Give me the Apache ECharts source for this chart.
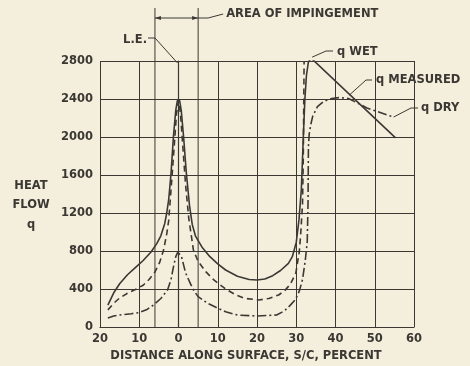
<!DOCTYPE html>
<html>
<head>
<meta charset="utf-8">
<script src="https://cdn.jsdelivr.net/npm/echarts@6/dist/echarts.min.js"></script>
<style>
  html, body { margin: 0; padding: 0; background: #f4efdd; }
  #chart { width: 470px; height: 366px; }
</style>
</head>
<body>
<div id="chart"></div>
<script>
// distance along surface (percent s/c; negative = lower side) vs heat flow q
const measured = [
  [-18, 230], [-16.5, 360], [-15, 455], [-13, 550], [-11, 625], [-9, 700], [-7, 790],
  [-5.5, 880], [-4.5, 960], [-3.5, 1090], [-3, 1200], [-2.5, 1340], [-1.9, 1620],
  [-1.3, 2000], [-0.7, 2280], [-0.3, 2380], [0, 2400], [0.3, 2380], [0.7, 2280],
  [1.3, 2000], [2, 1620], [2.8, 1280], [3.5, 1080], [4.3, 960], [6, 840], [8, 740],
  [10, 665], [12, 600], [15, 535], [18, 500], [20, 495], [22, 505], [24, 540],
  [26, 595], [28, 670], [29, 740], [30, 890], [30.7, 1130], [31.3, 1450], [31.8, 2000],
  [32.2, 2400], [32.6, 2650], [33.1, 2790], [33.8, 2830], [55.3, 1990]
];
const wet = [
  [-18, 180], [-16.5, 250], [-15, 305], [-13, 355], [-11, 395], [-9, 440], [-7.5, 500],
  [-6, 580], [-4.8, 680], [-3.8, 810], [-3, 980], [-2.5, 1120], [-1.8, 1500],
  [-1.1, 1900], [-0.5, 2250], [0, 2380], [0.5, 2250], [1.1, 1900], [1.8, 1500],
  [2.6, 1150], [3.8, 810], [5, 690], [7, 580], [9, 495], [12, 400], [14.5, 340],
  [17, 300], [20.5, 285], [23, 300], [25.5, 337], [27, 380], [28.5, 450], [29.9, 570],
  [30.8, 800], [31.2, 1020], [31.6, 1300], [31.8, 1800], [31.9, 2300], [32, 2790]
];
const dry = [
  [-18, 95], [-16.5, 115], [-15, 126], [-12, 140], [-10, 152], [-8, 185], [-6.4, 231],
  [-4.5, 300], [-2.8, 390], [-1.9, 500], [-1.3, 630], [-0.7, 740], [-0.2, 785],
  [0.2, 790], [0.7, 750], [1.2, 670], [1.8, 570], [3, 460], [3.8, 390], [5, 320],
  [7.4, 250], [9.4, 210], [12, 160], [15, 126], [20, 116], [25, 126], [27, 170],
  [28.5, 230], [29.8, 290], [30.8, 380], [31.6, 500], [32.3, 700], [32.8, 900],
  [33, 1300], [33.1, 1900], [33.3, 2030], [33.7, 2130], [34.2, 2220], [35.4, 2320],
  [37, 2375], [39, 2405], [41, 2415], [43.3, 2405], [46, 2350], [48, 2305], [54.8, 2210]
];
const impingement = [-6, 5];
const seriesNames = ['q MEASURED', 'q WET', 'q DRY'];
const xTitle = 'DISTANCE ALONG SURFACE, S/C, PERCENT';
const yTitle = ['HEAT', 'FLOW', 'q'];

const ink = '#3b3833';
const paper = '#f4efdd';
const font = 'DejaVu Sans';
const lbl = { color: ink, fontFamily: font, fontWeight: 'bold', fontSize: 11.5 };

const chart = echarts.init(document.getElementById('chart'), null, { renderer: 'canvas' });

function curve(name, data, type){
  return {
    name: name,
    type: 'line',
    data: data,
    symbol: 'none',
    smooth: false,
    lineStyle: { color: ink, width: 1.6, type: type, join: 'round' },
    z: 3
  };
}

chart.setOption({
  backgroundColor: paper,
  animation: false,
  grid: { left: 100, right: 56, top: 61, bottom: 39 },
  xAxis: {
    type: 'value', min: -20, max: 60, interval: 10,
    axisLine: { onZero: false, lineStyle: { color: ink, width: 1.2 } },
    axisTick: { show: false },
    splitLine: { lineStyle: { color: ink, width: 1 } },
    axisLabel: Object.assign({ margin: 6, formatter: v => String(Math.abs(v)) }, lbl)
  },
  yAxis: {
    type: 'value', min: 0, max: 2800, interval: 400,
    axisLine: { show: true, lineStyle: { color: ink, width: 1.2 } },
    axisTick: { show: false },
    splitLine: { lineStyle: { color: ink, width: 1 } },
    axisLabel: Object.assign({ margin: 7, formatter: v => String(v) }, lbl)
  },
  series: [
    curve(seriesNames[0], measured, 'solid'),
    curve(seriesNames[1], wet, [6, 4]),
    curve(seriesNames[2], dry, [9, 3, 2, 3])
  ]
});

// annotations placed from data coordinates
const px = p => chart.convertToPixel({ gridIndex: 0 }, p);
const bottomY = px([0, 0])[1];
const g = [];
const seg = (pts) => g.push({ type: 'polyline', shape: { points: pts }, style: { stroke: ink, lineWidth: 1, fill: null }, z: 10 });
const txt = (x, y, text, align) => g.push({ type: 'text', x: x, y: y, style: { text: text, align: align || 'left', verticalAlign: 'middle', fill: ink, font: 'bold 11.5px "DejaVu Sans"' }, z: 10 });

const xa = px([impingement[0], 0])[0], xb = px([impingement[1], 0])[0];
seg([[xa, 8], [xa, bottomY]]);
seg([[xb, 8], [xb, bottomY]]);
seg([[xa, 18], [xb, 18]]);
g.push({ type: 'polygon', shape: { points: [[xa, 18], [xa + 6, 16], [xa + 6, 20]] }, style: { fill: ink }, z: 10 });
g.push({ type: 'polygon', shape: { points: [[xb, 18], [xb - 6, 16], [xb - 6, 20]] }, style: { fill: ink }, z: 10 });
seg([[xb, 18], [xb + 10, 18], [xb + 25, 14]]);
txt(xb + 28, 14, 'AREA OF IMPINGEMENT');

const le = px([0, 2800]);
seg([[148, 38], [155, 38], [le[0] - 1, le[1] + 2]]);
txt(147, 40, 'L.E.', 'right');

const pk = px(measured[measured.length - 2]);
seg([[pk[0] + 1, pk[1] - 1], [326, 51], [333, 51]]);
txt(337, 52, seriesNames[1]);

const mm = px([43.5, 2440]);
seg([[mm[0], mm[1]], [366, 80], [372, 80]]);
txt(376, 80, seriesNames[0]);

const dd = px(dry[dry.length - 1]);
seg([[dd[0], dd[1]], [411, 108], [418, 108]]);
txt(421, 108, seriesNames[2]);

yTitle.forEach((t, i) => txt(31, 186 + i * 19.5, t, 'center'));
txt(246, 356, xTitle, 'center');

chart.setOption({ graphic: g });
</script>
</body>
</html>
